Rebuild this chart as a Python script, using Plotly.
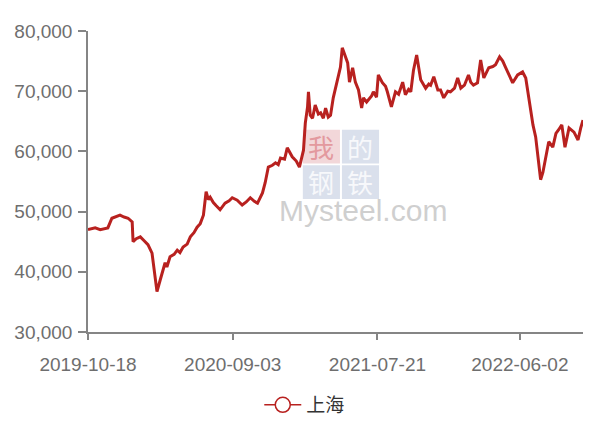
import plotly.graph_objects as go

# Shanghai price series
dates = [
    "2019-10-18", "2019-11-03", "2019-11-14", "2019-11-25", "2019-12-01", "2019-12-10",
    "2019-12-19", "2019-12-28", "2020-01-06", "2020-01-15", "2020-01-24", "2020-01-26",
    "2020-02-02", "2020-02-11", "2020-02-19", "2020-02-28", "2020-03-08", "2020-03-15",
    "2020-03-19", "2020-03-26", "2020-04-06", "2020-04-10", "2020-04-17", "2020-04-26",
    "2020-05-03", "2020-05-09", "2020-05-16", "2020-05-25", "2020-06-01", "2020-06-09",
    "2020-06-16", "2020-06-23", "2020-06-30", "2020-07-06", "2020-07-11", "2020-07-15",
    "2020-07-22", "2020-07-28", "2020-08-06", "2020-08-17", "2020-08-26", "2020-09-02",
    "2020-09-13", "2020-09-24", "2020-10-03", "2020-10-12", "2020-10-21", "2020-10-28",
    "2020-11-08", "2020-11-14", "2020-11-21", "2020-11-30", "2020-12-07", "2020-12-13",
    "2020-12-18", "2020-12-27", "2021-01-02", "2021-01-13", "2021-01-22", "2021-01-29",
    "2021-02-07", "2021-02-11", "2021-02-16", "2021-02-18", "2021-02-22", "2021-02-27",
    "2021-03-05", "2021-03-12", "2021-03-17", "2021-03-23", "2021-03-28", "2021-04-03",
    "2021-04-08", "2021-04-14", "2021-04-23", "2021-04-30", "2021-05-04", "2021-05-11",
    "2021-05-16", "2021-05-20", "2021-05-27", "2021-06-02", "2021-06-09", "2021-06-16",
    "2021-06-20", "2021-06-27", "2021-07-01", "2021-07-08", "2021-07-12", "2021-07-19",
    "2021-07-23", "2021-08-01", "2021-08-08", "2021-08-12", "2021-08-21", "2021-08-30",
    "2021-09-06", "2021-09-15", "2021-09-21", "2021-09-28", "2021-10-03", "2021-10-09",
    "2021-10-16", "2021-10-20", "2021-10-25", "2021-11-05", "2021-11-12", "2021-11-16",
    "2021-11-23", "2021-12-02", "2021-12-08", "2021-12-15", "2021-12-24", "2021-12-30",
    "2022-01-08", "2022-01-15", "2022-01-22", "2022-01-30", "2022-02-08", "2022-02-13",
    "2022-02-19", "2022-02-28", "2022-03-07", "2022-03-14", "2022-03-25", "2022-04-03",
    "2022-04-09", "2022-04-18", "2022-04-25", "2022-05-01", "2022-05-13", "2022-05-17",
    "2022-05-28", "2022-06-08", "2022-06-15", "2022-06-22", "2022-07-01", "2022-07-07",
    "2022-07-12", "2022-07-18", "2022-07-23", "2022-07-29", "2022-08-05", "2022-08-14",
    "2022-08-21", "2022-08-27", "2022-09-03", "2022-09-10", "2022-09-19", "2022-09-30",
    "2022-10-09", "2022-10-15", "2022-10-20",
]
shanghai = [
    47000, 47300, 47000, 47200, 47300, 48900,
    49200, 49400, 49100, 48900, 48300, 45000,
    45500, 45800, 45200, 44500, 43100, 39000,
    36700, 38600, 41500, 40800, 42500, 42900,
    43600, 43200, 44100, 44600, 45800, 46500,
    47400, 48000, 49400, 53300, 52000, 52400,
    51500, 51000, 50300, 51400, 51800, 52300,
    51900, 51100, 51600, 52300, 51700, 51400,
    53100, 54800, 57400, 57700, 58100, 57800,
    58900, 58700, 60600, 59100, 58400, 57400,
    60200, 64700, 67400, 69900, 66000, 65500,
    67700, 66200, 66400, 65500, 67200, 65700,
    66000, 68900, 71900, 74000, 77200, 75500,
    74700, 71500, 73900, 71500, 70200, 67200,
    68900, 68200, 68500, 69200, 69900, 69000,
    72700, 71400, 70800, 69900, 67400, 69900,
    69500, 71500, 69400, 70300, 69900, 73500,
    76000, 74000, 71900, 70500, 71200, 71000,
    72400, 70200, 70200, 68900, 70000, 69900,
    70500, 72200, 70500, 71000, 72700, 71500,
    71000, 71400, 75200, 72200, 73900, 74100,
    74400, 75700, 75000, 74000, 71900, 71400,
    72700, 73200, 72200, 68500, 64400, 62400,
    58600, 55300, 56500, 58600, 61600, 60700,
    63000, 63600, 64400, 60700, 63900, 63200,
    61900, 63900, 65200,
]

tick_dates = ["2019-10-18", "2020-09-03", "2021-07-21", "2022-06-02"]
y_ticks = [30000, 40000, 50000, 60000, 70000, 80000]

RED = "#b8211f"
GREY = "#858585"
LABEL = "#6e6e6e"
FONT = "Liberation Sans, Arial, Noto Sans CJK SC, sans-serif"

fig = go.Figure()
fig.add_trace(go.Scatter(x=dates, y=shanghai, mode="lines", showlegend=False,
                         line=dict(color=RED, width=3)))
# legend entry: line with empty circle
fig.add_trace(go.Scatter(x=[None], y=[None], mode="lines+markers", name="上海",
                         line=dict(color=RED, width=1.5),
                         marker=dict(symbol="circle", size=15, color="white",
                                     line=dict(color=RED, width=1.5))))

# watermark
boxes = [(0.434, 0.560, 0.672, "#f2d7d9"), (0.513, 0.560, 0.672, "#dae0ec"),
         (0.434, 0.442, 0.554, "#dae0ec"), (0.513, 0.442, 0.554, "#dae0ec")]
for x0, y0, y1, c in boxes:
    fig.add_shape(type="rect", xref="paper", yref="paper", x0=x0, x1=(x0 + 0.075),
                  y0=y0, y1=y1, fillcolor=c, line_width=0, layer="below")
for ch, cx, cy, col in [("我", 0.4715, 0.616, "#e3999e"), ("的", 0.5505, 0.616, "#f7f8fb"),
                        ("钢", 0.4715, 0.500, "#f7f8fb"), ("铁", 0.5505, 0.500, "#f7f8fb")]:
    fig.add_annotation(text=ch, xref="paper", yref="paper", x=cx, y=cy, showarrow=False,
                       font=dict(family="Noto Sans CJK SC", size=26, color=col))
fig.add_annotation(text="Mysteel.com", xref="paper", yref="paper", x=0.556, y=0.403,
                   showarrow=False, font=dict(family=FONT, size=30, color="#cfcfcf"))

# the page body has an 8px margin, so the figure is sized to fill the rest
fig.update_layout(
    width=592, height=413,
    margin=dict(l=80, r=17, t=23, b=89, autoexpand=False),
    plot_bgcolor="white", paper_bgcolor="white",
    font=dict(family=FONT, size=19, color=LABEL),
    xaxis=dict(type="date", range=["2019-10-18", "2022-10-20"], automargin=False,
               tickvals=tick_dates, ticktext=tick_dates,
               showgrid=False, zeroline=False, showline=True, linecolor=GREY, linewidth=1.5,
               ticks="outside", ticklen=6, tickcolor=GREY, tickwidth=1.5,
               ticklabelstandoff=8, tickfont=dict(size=19, color=LABEL)),
    yaxis=dict(range=[30000, 80000], tickvals=y_ticks, tickformat=",d", automargin=False,
               showgrid=False, zeroline=False, showline=True, linecolor=GREY, linewidth=1.5,
               ticks="outside", ticklen=8, tickcolor=GREY, tickwidth=1.5,
               ticklabelstandoff=2, tickfont=dict(size=19, color=LABEL)),
    legend=dict(orientation="h", x=0.346, y=-0.2425, xanchor="left", yanchor="middle",
                itemwidth=37, font=dict(size=19, color="#333333"), bgcolor="rgba(0,0,0,0)"),
)

fig.write_html("out.html")
